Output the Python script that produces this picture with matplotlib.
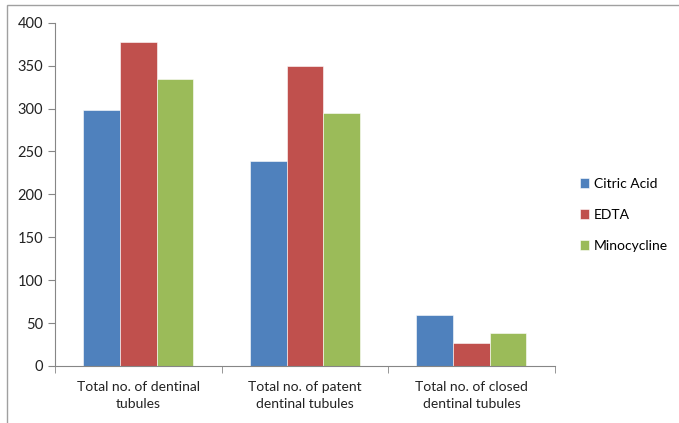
import numpy as np
import matplotlib.pyplot as plt
from matplotlib.patches import Rectangle

# data
categories = ['Total no. of dentinal\ntubules',
              'Total no. of patent\ndentinal tubules',
              'Total no. of closed\ndentinal tubules']
series = ['Citric Acid', 'EDTA', 'Minocycline']
citric = [298, 239, 59]
edta = [378, 350, 27]
mino = [334, 295, 38]
colors = ['#4F81BD', '#C0504D', '#9BBB59']

plt.rcParams['font.family'] = ['Lato', 'DejaVu Sans']

fig = plt.figure(figsize=(6.79, 4.23), dpi=100)
ax = fig.add_axes([0.081, 0.135, 0.736, 0.811])

# grey frame round the whole chart
fig.patches.append(Rectangle((7 / 679, -0.01), 1.0, 1 - 5 / 423 + 0.01,
                             transform=fig.transFigure, fill=False,
                             edgecolor='#A0A0A0', linewidth=1))

x = np.arange(len(categories))
w = 0.22
for i, (vals, name) in enumerate(zip([citric, edta, mino], series)):
    ax.bar(x + (i - 1) * w, vals, w, color=colors[i], label=name,
           edgecolor='white', linewidth=0.4)

ax.set_xlim(-0.5, 2.5)
ax.set_ylim(0, 400)
ax.set_yticks(range(0, 401, 50))
ax.set_xticks(x)
ax.set_xticklabels(categories, fontsize=10, color='#222222', linespacing=1.45)
ax.set_xticks([-0.5, 0.5, 1.5, 2.5], minor=True)
ax.tick_params(axis='x', which='major', length=0, pad=11)
ax.tick_params(axis='x', which='minor', length=5, color='#868686', direction='out')
ax.tick_params(axis='y', length=5, color='#868686', labelsize=10.5, labelcolor='#222222')
for s in ['top', 'right']:
    ax.spines[s].set_visible(False)
for s in ['left', 'bottom']:
    ax.spines[s].set_color('#868686')

ax.legend(loc='center left', bbox_to_anchor=(1.025, 0.44), frameon=False,
          fontsize=10, handlelength=0.7, handleheight=0.7, handletextpad=0.3,
          labelspacing=1.35)

fig.savefig('out.png', dpi=100)
